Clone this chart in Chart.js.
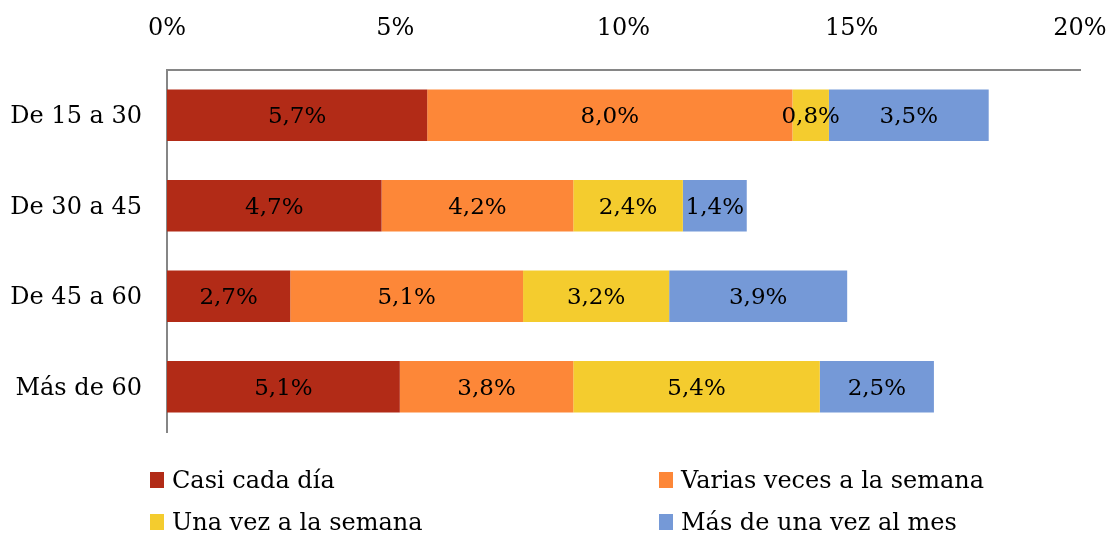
<!DOCTYPE html>
<html>
<head>
<meta charset="utf-8">
<script src="https://cdn.jsdelivr.net/npm/chart.js@4/dist/chart.umd.min.js"></script>
<style>
    html, body { margin: 0; padding: 0; background: #fff; }
    #wrap { position: relative; width: 1109px; height: 535px; }
    #legend { position: absolute; left: 0; top: 0; width: 1109px; height: 535px; pointer-events: none;
        font-family: "DejaVu Serif", serif; font-size: 24px; color: #000; }
    .item { position: absolute; display: flex; align-items: center; white-space: nowrap; }
    .box { width: 14px; height: 16px; margin-right: 8px; }
</style>
</head>
<body>
<div id="wrap">
    <canvas id="chart" width="1109" height="535"></canvas>
    <div id="legend"></div>
</div>
<script>
const categories = ["De 15 a 30", "De 30 a 45", "De 45 a 60", "Más de 60"];
const seriesNames = ["Casi cada día", "Varias veces a la semana", "Una vez a la semana", "Más de una vez al mes"];
const casiCadaDia = [5.7, 4.7, 2.7, 5.1];
const variasVeces = [8.0, 4.2, 5.1, 3.8];
const unaVez = [0.8, 2.4, 3.2, 5.4];
const masDeUnaVez = [3.5, 1.4, 3.9, 2.5];
const tickValues = [0, 5, 10, 15, 20];

const colors = ["#B22B17", "#FD8738", "#F4CC2E", "#7599D7"];
const FONT = "DejaVu Serif";

const fmt = (v) => v.toFixed(1).replace(".", ",") + "%";

// draws the value in the middle of each segment
const barLabels = {
    id: "barLabels",
    afterDatasetsDraw(chart) {
        const ctx = chart.ctx;
        ctx.save();
        ctx.font = "23px '" + FONT + "'";
        ctx.fillStyle = "#000";
        ctx.textAlign = "center";
        ctx.textBaseline = "middle";
        chart.data.datasets.forEach((ds, i) => {
            chart.getDatasetMeta(i).data.forEach((bar, j) => {
                const cx = (bar.x + bar.base) / 2;
                ctx.fillText(fmt(ds.data[j]), cx, bar.y + 2);
            });
        });
        ctx.restore();
    }
};

const ctx = document.getElementById("chart").getContext("2d");
const chart = new Chart(ctx, {
    type: "bar",
    data: {
        labels: categories,
        datasets: [casiCadaDia, variasVeces, unaVez, masDeUnaVez].map((d, i) => ({
            label: seriesNames[i],
            data: d,
            backgroundColor: colors[i],
            borderWidth: 0,
            categoryPercentage: 1,
            barPercentage: 0.57
        }))
    },
    options: {
        indexAxis: "y",
        responsive: false,
        animation: false,
        layout: { padding: { top: 0, right: 29, bottom: 103, left: 0 } },
        plugins: { legend: { display: false }, tooltip: { enabled: false } },
        scales: {
            x: {
                position: "top",
                stacked: true,
                min: 0,
                max: 20,
                afterBuildTicks: (s) => { s.ticks = tickValues.map(v => ({ value: v })); },
                afterFit: (s) => { s.height = 70; s.paddingLeft = 0; s.paddingRight = 0; },
                grid: { display: false, drawTicks: false },
                border: { display: true, color: "#868686", width: 2 },
                ticks: {
                    padding: 27,
                    color: "#000",
                    font: { family: FONT, size: 24 },
                    callback: (v) => v + "%"
                }
            },
            y: {
                stacked: true,
                afterFit: (s) => { s.width = 167; s.paddingTop = 0; s.paddingBottom = 0; },
                grid: { display: false, drawTicks: false },
                border: { display: true, color: "#868686", width: 2 },
                ticks: {
                    padding: 25,
                    labelOffset: 2,
                    color: "#000",
                    font: { family: FONT, size: 24 }
                }
            }
        }
    },
    plugins: [barLabels]
});

// legend in two columns below the plot
const legendPos = [[150, 481], [659, 481], [150, 523], [659, 523]];
const legendEl = document.getElementById("legend");
seriesNames.forEach((name, i) => {
    const it = document.createElement("div");
    it.className = "item";
    it.style.left = legendPos[i][0] + "px";
    it.style.top = (legendPos[i][1] - 15) + "px";
    it.innerHTML = '<span class="box" style="background:' + colors[i] + '"></span><span>' + name + '</span>';
    legendEl.appendChild(it);
});
</script>
</body>
</html>
